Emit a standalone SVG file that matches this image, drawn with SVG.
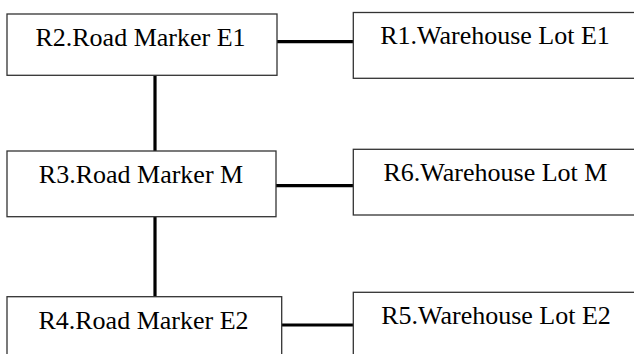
<svg xmlns="http://www.w3.org/2000/svg" width="634" height="354" viewBox="0 0 634 354">
<style>
.box{fill:#fff;stroke:#333;stroke-width:1.3}
.lbl{font-family:"Liberation Serif","Times New Roman",serif;font-size:26px;fill:#000;text-anchor:middle}
.conn{stroke:#000;stroke-width:3.2;fill:none}
</style>
<rect width="634" height="354" fill="#fff"/>
<g id="connectors">
<line class="conn" x1="277" y1="41.7" x2="353.3" y2="41.7"/>
<line class="conn" x1="155" y1="75.3" x2="155" y2="151"/>
<line class="conn" x1="276" y1="185.7" x2="353.3" y2="185.7"/>
<line class="conn" x1="155" y1="216.7" x2="155" y2="296.7"/>
<line class="conn" x1="281.7" y1="325" x2="353.3" y2="325"/>
</g>
<g id="R2">
<rect class="box" x="7" y="14" width="270" height="61.3"/>
<text class="lbl" x="140.5" y="45.5">R2.Road Marker E1</text>
</g>
<g id="R1">
<rect class="box" x="353.3" y="12.5" width="300" height="65.8"/>
<text class="lbl" x="495" y="44">R1.Warehouse Lot E1</text>
</g>
<g id="R3">
<rect class="box" x="7" y="151" width="269" height="65.7"/>
<text class="lbl" x="141" y="182.5">R3.Road Marker M</text>
</g>
<g id="R6">
<rect class="box" x="353.3" y="149.3" width="300" height="65.7"/>
<text class="lbl" x="495.5" y="181">R6.Warehouse Lot M</text>
</g>
<g id="R4">
<rect class="box" x="7" y="296.7" width="274.7" height="70"/>
<text class="lbl" x="143.5" y="329">R4.Road Marker E2</text>
</g>
<g id="R5">
<rect class="box" x="353.3" y="292.3" width="300" height="70"/>
<text class="lbl" x="496" y="323.5">R5.Warehouse Lot E2</text>
</g>
</svg>
